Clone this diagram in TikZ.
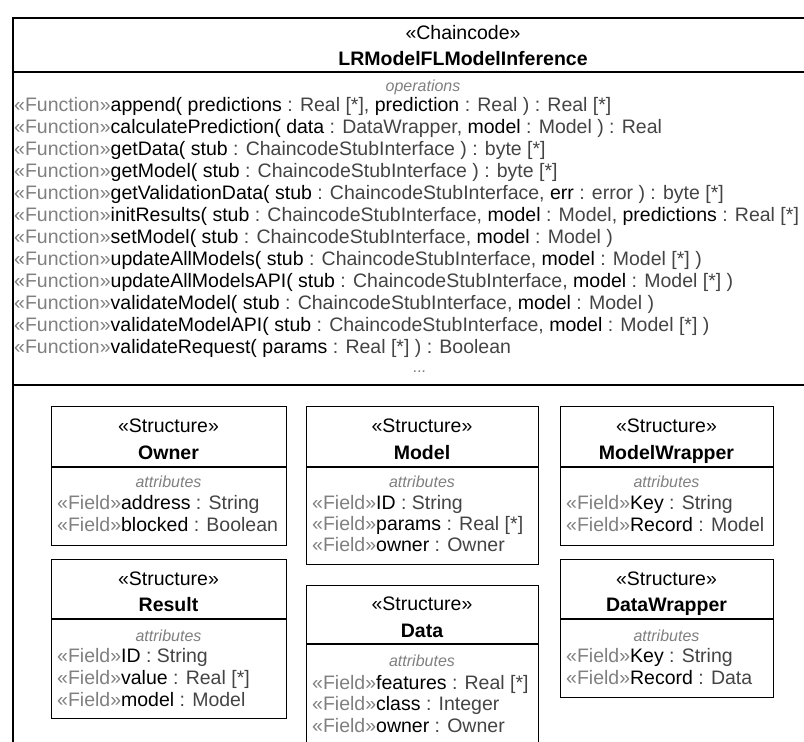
\documentclass[tikz,border=0pt]{standalone}
\usepackage{fontspec}
\setmainfont{Liberation Sans}
\definecolor{stc}{RGB}{128,128,128}
\definecolor{tyc}{RGB}{68,68,68}
\newcommand\blk[1]{\textcolor{black}{#1}}
\newcommand\fn{\textcolor{stc}{«Function»}}
\newcommand\fld{\textcolor{stc}{«Field»}}
\begin{document}
\begin{tikzpicture}[x=1pt,y=-1pt,
  txt/.style={inner sep=0pt, font=\fontsize{19.5}{22}\selectfont, text=tyc},
  opl/.style={txt, anchor=base west},
  ctr/.style={txt, anchor=base, text=black},
  nme/.style={txt, anchor=base, text=black, font=\fontsize{19.5}{22}\selectfont\bfseries},
  cmp/.style={txt, anchor=base, text=stc, font=\fontsize{16}{19}\selectfont\itshape},
  outer/.style={draw=black, line width=2pt},
  sbox/.style={draw=black, line width=1.4pt, inner sep=0pt, anchor=north west},
  sepl/.style={draw=black, line width=1.4pt}
]
\useasboundingbox (0,0) rectangle (804,742);
\fill[white] (0,0) rectangle (804,742);
\begin{scope}
\clip (0,0) rectangle (804,742);
% outer chaincode class
\coordinate (otl) at (13,18);
\coordinate (otr) at (920,18);
\coordinate (obl) at (13,800);
\coordinate (s1l) at (13,72);
\coordinate (s1r) at (920,72);
\coordinate (s2l) at (13,385);
\coordinate (s2r) at (920,385);
\draw[outer] (obl) -- (otl) -- (otr);
\draw[outer] (s1l) -- (s1r);
\draw[outer] (s2l) -- (s2r);

\node[ctr] (hst) at (463,39) {«Chaincode»};
\node[nme] (hnm) at (463,65) {LRModelFLModelInference};
\node[cmp] (ops) at (423,91) {operations};

\node[opl] (o1) at (14,111) {\fn\blk{append(} \blk{predictions} : Real [*], \blk{prediction} : Real ) : Real [*]};
\node[opl] (o2) at (14,133) {\fn\blk{calculatePrediction(} \blk{data} : DataWrapper, \blk{model} : Model ) : Real};
\node[opl] (o3) at (14,155) {\fn\blk{getData(} \blk{stub} : ChaincodeStubInterface ) : byte [*]};
\node[opl] (o4) at (14,177) {\fn\blk{getModel(} \blk{stub} : ChaincodeStubInterface ) : byte [*]};
\node[opl] (o5) at (14,199) {\fn\blk{getValidationData(} \blk{stub} : ChaincodeStubInterface, \blk{err} : error ) : byte [*]};
\node[opl] (o6) at (14,221) {\fn\blk{initResults(} \blk{stub} : ChaincodeStubInterface, \blk{model} : Model, \blk{predictions} : Real [*] )};
\node[opl] (o7) at (14,243) {\fn\blk{setModel(} \blk{stub} : ChaincodeStubInterface, \blk{model} : Model )};
\node[opl] (o8) at (14,265) {\fn\blk{updateAllModels(} \blk{stub} : ChaincodeStubInterface, \blk{model} : Model [*] )};
\node[opl] (o9) at (14,287) {\fn\blk{updateAllModelsAPI(} \blk{stub} : ChaincodeStubInterface, \blk{model} : Model [*] )};
\node[opl] (o10) at (14,309) {\fn\blk{validateModel(} \blk{stub} : ChaincodeStubInterface, \blk{model} : Model )};
\node[opl] (o11) at (14,331) {\fn\blk{validateModelAPI(} \blk{stub} : ChaincodeStubInterface, \blk{model} : Model [*] )};
\node[opl] (o12) at (14,353) {\fn\blk{validateRequest(} \blk{params} : Real [*] ) : Boolean};
\node[cmp] (odots) at (420,372) {...};

% Owner
\node[sbox, minimum width=235pt, minimum height=139pt] (owner) at (51,406) {};
\draw[sepl] (owner.west |- 0,467) -- (owner.east |- 0,467);
\node[ctr] (owst) at (168.5,432) {«Structure»};
\node[nme] (ownm) at (168.5,459) {Owner};
\node[cmp] (owat) at (168.5,487) {attributes};
\node[opl] (owf1) at (57,509) {\fld\blk{address} : String};
\node[opl] (owf2) at (57,531) {\fld\blk{blocked} : Boolean};

% Model
\node[sbox, minimum width=232pt, minimum height=158pt] (model) at (306,406) {};
\draw[sepl] (model.west |- 0,467) -- (model.east |- 0,467);
\node[ctr] (most) at (422,432) {«Structure»};
\node[nme] (monm) at (422,459) {Model};
\node[cmp] (moat) at (422,487) {attributes};
\node[opl] (mof1) at (312,509) {\fld\blk{ID} : String};
\node[opl] (mof2) at (312,530) {\fld\blk{params} : Real [*]};
\node[opl] (mof3) at (312,551) {\fld\blk{owner} : Owner};

% ModelWrapper
\node[sbox, minimum width=213pt, minimum height=139pt] (mwrap) at (560,406) {};
\draw[sepl] (mwrap.west |- 0,467) -- (mwrap.east |- 0,467);
\node[ctr] (mwst) at (666.5,432) {«Structure»};
\node[nme] (mwnm) at (666.5,459) {ModelWrapper};
\node[cmp] (mwat) at (666.5,487) {attributes};
\node[opl] (mwf1) at (566,509) {\fld\blk{Key} : String};
\node[opl] (mwf2) at (566,531) {\fld\blk{Record} : Model};

% Result
\node[sbox, minimum width=235pt, minimum height=159pt] (result) at (51,559) {};
\draw[sepl] (result.west |- 0,619) -- (result.east |- 0,619);
\node[ctr] (rest) at (168.5,585) {«Structure»};
\node[nme] (renm) at (168.5,611) {Result};
\node[cmp] (reat) at (168.5,641) {attributes};
\node[opl] (ref1) at (57,662) {\fld\blk{ID} : String};
\node[opl] (ref2) at (57,684) {\fld\blk{value} : Real [*]};
\node[opl] (ref3) at (57,706) {\fld\blk{model} : Model};

% Data
\node[sbox, minimum width=232pt, minimum height=170pt] (data) at (306,585) {};
\draw[sepl] (data.west |- 0,644) -- (data.east |- 0,644);
\node[ctr] (dast) at (422,610) {«Structure»};
\node[nme] (danm) at (422,637) {Data};
\node[cmp] (daat) at (422,666) {attributes};
\node[opl] (daf1) at (312,689) {\fld\blk{features} : Real [*]};
\node[opl] (daf2) at (312,710) {\fld\blk{class} : Integer};
\node[opl] (daf3) at (312,732) {\fld\blk{owner} : Owner};

% DataWrapper
\node[sbox, minimum width=213pt, minimum height=138pt] (dwrap) at (560,559) {};
\draw[sepl] (dwrap.west |- 0,619) -- (dwrap.east |- 0,619);
\node[ctr] (dwst) at (666.5,585) {«Structure»};
\node[nme] (dwnm) at (666.5,611) {DataWrapper};
\node[cmp] (dwat) at (666.5,641) {attributes};
\node[opl] (dwf1) at (566,662) {\fld\blk{Key} : String};
\node[opl] (dwf2) at (566,684) {\fld\blk{Record} : Data};
\end{scope}
\end{tikzpicture}
\end{document}
